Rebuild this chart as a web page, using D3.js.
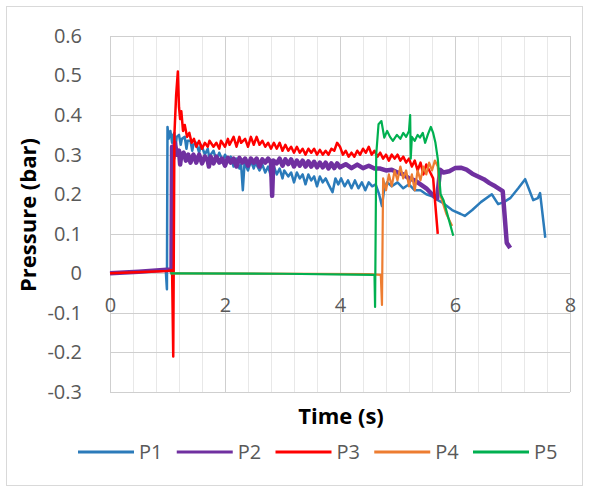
<!DOCTYPE html>
<html>
<head>
<meta charset="utf-8">
<script src="https://cdn.jsdelivr.net/npm/d3@7"></script>
<style>
  body { margin: 0; background: #fff; }
  svg { display: block; font-family: "Open Sans", sans-serif; }
</style>
</head>
<body>
<div id="chart"></div>
<script>
// Presión medida en cinco sensores frente al tiempo
const seriesNames = ['P1', 'P2', 'P3', 'P4', 'P5'];
const xTicks = [0, 2, 4, 6, 8];
const yTicks = [-0.3, -0.2, -0.1, 0, 0.1, 0.2, 0.3, 0.4, 0.5, 0.6];

// [tiempo (s), presión (bar)]
const p1 = [[0,0],[0.5,0.004],[0.97,0.008],[0.99,-0.04],[1.0,0.37],[1.02,0.34],[1.05,0.36],[1.08,0.33],[1.1,0.35],[1.12,0.355],[1.14,0.32],[1.16,0.345],[1.2,0.35],[1.23,0.325],[1.25,0.34],[1.3,0.345],[1.33,0.315],[1.35,0.335],[1.4,0.335],[1.43,0.31],[1.45,0.325],[1.5,0.33],[1.55,0.305],[1.58,0.325],[1.6,0.32],[1.65,0.3],[1.7,0.315],[1.73,0.29],[1.75,0.3],[1.8,0.31],[1.85,0.285],[1.9,0.305],[1.93,0.295],[1.95,0.28],[2.0,0.3],[2.05,0.285],[2.1,0.295],[2.15,0.27],[2.2,0.29],[2.25,0.265],[2.28,0.275],[2.31,0.21],[2.34,0.28],[2.4,0.26],[2.45,0.285],[2.5,0.265],[2.53,0.28],[2.6,0.26],[2.65,0.275],[2.7,0.255],[2.75,0.27],[2.8,0.245],[2.85,0.27],[2.9,0.25],[2.95,0.265],[3.0,0.24],[3.03,0.26],[3.1,0.245],[3.15,0.255],[3.2,0.23],[3.25,0.255],[3.3,0.24],[3.35,0.25],[3.4,0.225],[3.45,0.25],[3.5,0.235],[3.55,0.245],[3.6,0.22],[3.65,0.245],[3.7,0.23],[3.75,0.24],[3.8,0.225],[3.87,0.205],[3.92,0.24],[3.97,0.225],[4.02,0.24],[4.08,0.22],[4.14,0.235],[4.2,0.215],[4.26,0.235],[4.32,0.215],[4.38,0.23],[4.44,0.21],[4.5,0.23],[4.56,0.22],[4.62,0.225],[4.68,0.2],[4.73,0.17],[4.77,0.215],[4.82,0.23],[4.9,0.22],[5.0,0.23],[5.1,0.215],[5.2,0.225],[5.3,0.21],[5.4,0.21],[5.5,0.2],[5.6,0.195],[5.7,0.185],[5.79,0.178],[5.95,0.16],[6.1,0.15],[6.17,0.145],[6.3,0.16],[6.45,0.18],[6.64,0.2],[6.75,0.175],[6.85,0.18],[6.96,0.19],[7.1,0.215],[7.22,0.238],[7.36,0.185],[7.44,0.19],[7.48,0.203],[7.57,0.09]];

const p2 = [[0,0],[0.5,0.004],[1.05,0.01],[1.07,0.005],[1.08,0.32],[1.1,0.29],[1.13,0.33],[1.16,0.3],[1.2,0.31],[1.22,0.275],[1.24,0.3],[1.28,0.305],[1.32,0.285],[1.36,0.3],[1.4,0.28],[1.45,0.3],[1.48,0.29],[1.5,0.28],[1.55,0.3],[1.6,0.278],[1.65,0.295],[1.7,0.285],[1.72,0.27],[1.75,0.295],[1.8,0.278],[1.85,0.295],[1.9,0.28],[1.95,0.29],[2.0,0.272],[2.05,0.292],[2.1,0.28],[2.15,0.29],[2.2,0.27],[2.25,0.292],[2.3,0.28],[2.35,0.29],[2.4,0.272],[2.45,0.29],[2.5,0.28],[2.55,0.29],[2.6,0.27],[2.65,0.288],[2.7,0.28],[2.75,0.29],[2.8,0.28],[2.82,0.196],[2.84,0.285],[2.9,0.278],[2.95,0.29],[3.0,0.272],[3.05,0.288],[3.1,0.276],[3.15,0.288],[3.2,0.27],[3.25,0.285],[3.3,0.272],[3.35,0.285],[3.4,0.27],[3.45,0.283],[3.5,0.27],[3.55,0.282],[3.6,0.268],[3.65,0.28],[3.7,0.268],[3.75,0.28],[3.8,0.265],[3.85,0.278],[3.9,0.266],[3.95,0.278],[4.0,0.268],[4.1,0.276],[4.2,0.266],[4.3,0.275],[4.4,0.266],[4.5,0.272],[4.6,0.265],[4.7,0.265],[4.8,0.26],[4.9,0.262],[5.0,0.255],[5.1,0.25],[5.2,0.24],[5.3,0.235],[5.4,0.225],[5.5,0.215],[5.6,0.2],[5.69,0.19],[5.74,0.262],[5.8,0.255],[5.9,0.258],[6.0,0.266],[6.1,0.267],[6.2,0.262],[6.3,0.252],[6.4,0.245],[6.5,0.238],[6.6,0.228],[6.7,0.22],[6.83,0.208],[6.9,0.077],[6.96,0.064]];

const p3 = [[0,0],[1.0,0.006],[1.08,0.008],[1.1,-0.21],[1.12,0.35],[1.15,0.45],[1.18,0.51],[1.2,0.42],[1.22,0.39],[1.24,0.41],[1.27,0.36],[1.3,0.375],[1.34,0.345],[1.38,0.355],[1.42,0.33],[1.46,0.34],[1.5,0.32],[1.55,0.335],[1.6,0.315],[1.65,0.33],[1.7,0.32],[1.73,0.335],[1.8,0.32],[1.85,0.33],[1.9,0.315],[1.93,0.335],[2.0,0.32],[2.05,0.34],[2.08,0.325],[2.15,0.345],[2.2,0.32],[2.25,0.345],[2.28,0.33],[2.35,0.34],[2.4,0.32],[2.45,0.345],[2.5,0.325],[2.55,0.345],[2.6,0.325],[2.65,0.335],[2.7,0.32],[2.75,0.33],[2.8,0.315],[2.85,0.33],[2.9,0.315],[2.95,0.33],[3.0,0.31],[3.05,0.325],[3.1,0.31],[3.15,0.32],[3.2,0.305],[3.25,0.32],[3.3,0.305],[3.35,0.315],[3.4,0.3],[3.45,0.315],[3.5,0.305],[3.55,0.315],[3.6,0.3],[3.65,0.312],[3.7,0.3],[3.75,0.31],[3.8,0.3],[3.85,0.315],[3.9,0.31],[3.95,0.33],[4.0,0.32],[4.05,0.3],[4.1,0.31],[4.15,0.295],[4.2,0.305],[4.25,0.295],[4.3,0.31],[4.35,0.3],[4.4,0.315],[4.45,0.305],[4.5,0.32],[4.55,0.3],[4.6,0.31],[4.65,0.295],[4.7,0.305],[4.75,0.29],[4.8,0.3],[4.85,0.285],[4.9,0.3],[4.95,0.29],[5.0,0.3],[5.05,0.285],[5.1,0.295],[5.15,0.28],[5.2,0.29],[5.25,0.27],[5.3,0.285],[5.35,0.26],[5.4,0.28],[5.45,0.25],[5.5,0.275],[5.57,0.255],[5.62,0.24],[5.66,0.17],[5.7,0.1]];

const p4 = [[1.05,0],[4.5,-0.002],[4.71,-0.004],[4.73,-0.08],[4.75,0.24],[4.8,0.21],[4.85,0.25],[4.9,0.22],[4.95,0.26],[5.0,0.235],[5.05,0.27],[5.1,0.24],[5.15,0.26],[5.2,0.22],[5.25,0.25],[5.3,0.21],[5.35,0.26],[5.4,0.235],[5.45,0.27],[5.5,0.25],[5.55,0.28],[5.6,0.26],[5.65,0.285],[5.7,0.27],[5.74,0.2],[5.85,0.15],[5.95,0.12]];

const p5 = [[1.05,0],[3.0,-0.001],[4.58,-0.004],[4.6,-0.005],[4.61,-0.085],[4.63,0.3],[4.67,0.377],[4.72,0.385],[4.77,0.343],[4.82,0.36],[4.87,0.345],[4.92,0.335],[4.99,0.35],[5.05,0.34],[5.1,0.355],[5.15,0.345],[5.2,0.36],[5.22,0.4],[5.23,0.29],[5.25,0.345],[5.3,0.335],[5.35,0.35],[5.39,0.343],[5.44,0.355],[5.48,0.33],[5.53,0.352],[5.58,0.37],[5.62,0.355],[5.66,0.33],[5.7,0.29],[5.75,0.2],[5.8,0.185],[5.97,0.095]];

const seriesData = [p1, p2, p3, p4, p5];
const colors = ['#2b7bba', '#7030a0', '#ff0000', '#ed7d31', '#00b050'];
const widths = [2.5, 4.5, 2.5, 2.2, 2.2];

function renderChart() {
    const width = 589;
    const height = 491;
    const margin = { top: 36, right: 19, bottom: 99, left: 110 };

    const svg = d3.select('#chart').append('svg')
        .attr('width', width)
        .attr('height', height);

    // Borde exterior del gráfico
    svg.append('rect')
        .attr('x', 6.5).attr('y', 6.5)
        .attr('width', width - 13).attr('height', height - 12)
        .attr('fill', '#fff')
        .attr('stroke', '#d9d9d9');

    const x = d3.scaleLinear().domain([0, 8]).range([margin.left, width - margin.right]);
    const y = d3.scaleLinear().domain([-0.3, 0.6]).range([height - margin.bottom, margin.top]);

    // Rejilla secundaria vertical
    svg.append('g')
        .selectAll('line')
        .data(d3.range(0, 8.01, 0.4).map(d => +d.toFixed(1)))
        .join('line')
        .attr('x1', d => Math.round(x(d)) + 0.5)
        .attr('x2', d => Math.round(x(d)) + 0.5)
        .attr('y1', y(0.6))
        .attr('y2', y(-0.3))
        .attr('stroke', '#e8e8e8');

    // Rejilla principal
    svg.append('g')
        .selectAll('line')
        .data(yTicks)
        .join('line')
        .attr('x1', x(0))
        .attr('x2', x(8))
        .attr('y1', d => Math.round(y(d)) + 0.5)
        .attr('y2', d => Math.round(y(d)) + 0.5)
        .attr('stroke', '#cfcfcf');

    svg.append('g')
        .selectAll('line')
        .data(xTicks)
        .join('line')
        .attr('x1', d => Math.round(x(d)) + 0.5)
        .attr('x2', d => Math.round(x(d)) + 0.5)
        .attr('y1', y(0.6))
        .attr('y2', y(-0.3))
        .attr('stroke', '#cfcfcf');

    const fmt = d => String(+d.toFixed(1));

    // Eje Y
    const yAxis = svg.append('g')
        .attr('transform', `translate(${x(0)},0)`)
        .call(d3.axisLeft(y).tickValues(yTicks).tickFormat(fmt).tickSize(0).tickPadding(28));
    yAxis.select('.domain').remove();
    yAxis.selectAll('text')
        .attr('fill', '#595959')
        .style('font-size', '20px')
        .style('font-family', '"Open Sans", sans-serif');

    // Eje X (cruza en 0)
    const xAxis = svg.append('g')
        .attr('transform', `translate(0,${y(0)})`)
        .call(d3.axisBottom(x).tickValues(xTicks).tickFormat(fmt).tickSize(0).tickPadding(24));
    xAxis.select('.domain').remove();
    xAxis.selectAll('text')
        .attr('fill', '#595959')
        .style('font-size', '20px')
        .style('font-family', '"Open Sans", sans-serif');

    // Series
    const line = d3.line()
        .x(d => x(d[0]))
        .y(d => y(d[1]));

    seriesData.forEach((data, i) => {
        svg.append('path')
            .datum(data)
            .attr('fill', 'none')
            .attr('stroke', colors[i])
            .attr('stroke-width', widths[i])
            .attr('stroke-linejoin', 'round')
            .attr('d', line);
    });

    // Títulos de ejes
    svg.append('text')
        .attr('x', x(4) + 1)
        .attr('y', 424)
        .attr('text-anchor', 'middle')
        .attr('font-size', '22px')
        .attr('font-weight', 'bold')
        .attr('fill', '#000')
        .text('Time (s)');

    svg.append('text')
        .attr('transform', `translate(36,215) rotate(-90)`)
        .attr('text-anchor', 'middle')
        .attr('font-size', '22px')
        .attr('font-weight', 'bold')
        .attr('fill', '#000')
        .text('Pressure (bar)');

    // Leyenda
    const legendX = d3.scalePoint().domain(seriesNames).range([78, 473]);
    const legend = svg.append('g')
        .selectAll('g')
        .data(seriesNames)
        .join('g')
        .attr('transform', d => `translate(${legendX(d)},452)`);

    legend.append('line')
        .attr('x1', 0).attr('x2', 56)
        .attr('y1', 0).attr('y2', 0)
        .attr('stroke', (d, i) => colors[i])
        .attr('stroke-width', 3);

    legend.append('text')
        .attr('x', 61)
        .attr('y', 7)
        .attr('font-size', '20px')
        .attr('fill', '#595959')
        .text(d => d);
}

renderChart();
</script>
</body>
</html>
